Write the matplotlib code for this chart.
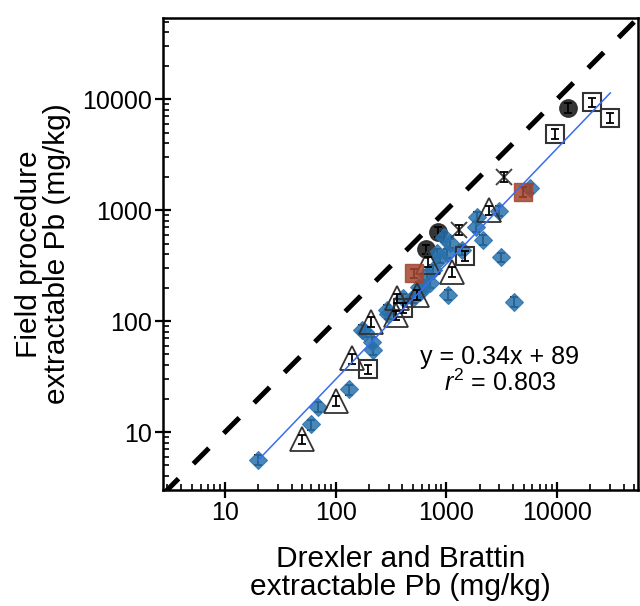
import matplotlib
matplotlib.use('Agg')
import matplotlib.pyplot as plt
import numpy as np
from matplotlib.ticker import LogLocator, NullFormatter, FixedLocator

plt.rcParams['font.family'] = ['Liberation Sans', 'DejaVu Sans']
plt.rcParams['mathtext.fontset'] = 'custom'
plt.rcParams['mathtext.rm'] = 'Liberation Sans'
plt.rcParams['mathtext.it'] = 'Liberation Sans:italic'

# Drexler and Brattin (x) vs field procedure (y), mg/kg
diamond_x = [20, 60, 69, 131, 185, 212, 219, 290, 299, 172, 409, 504, 580, 560, 621,
             713, 666, 764, 878, 820, 1009, 942, 1081, 1045, 1380, 1887, 1860, 2140,
             2960, 5730, 3110, 4050]
diamond_y = [5.6, 11.7, 16.9, 24.2, 80, 65, 55, 126, 117, 83, 161, 161, 184, 204, 204,
             219, 261, 289, 368, 408, 408, 577, 503, 172, 438, 873, 710, 538,
             990, 1575, 376, 150]

triangle_x = [49.7, 100, 141, 207, 357, 348, 541, 689, 1122, 2440]
triangle_y = [8.6, 19.2, 46, 99, 161, 113, 172, 341, 279, 1000]

square_x = [196, 409, 1480, 9660, 20700, 30300]
square_y = [36.7, 131, 386, 4860, 9400, 6820]

circle_x = [656, 838, 12500]
circle_y = [444, 640, 8400]

cross_x = [1291, 3310]
cross_y = [662, 2005]

red_x = [505, 4920]
red_y = [270, 1470]

rel_err = 0.1

fit_x = [20, 30300]
fit_y = [5.6, 11400]
one_to_one = [2.75, 54000]

fig = plt.figure(figsize=(6.4, 6.06), dpi=100)
ax = fig.add_axes([0.2547, 0.1914, 0.7423, 0.7797])
ax.set_xscale('log')
ax.set_yscale('log')


def err_bars(x, y, z):
    y = np.array(y, dtype=float)
    ax.errorbar(x, y, yerr=rel_err * y, fmt='none', ecolor='black', elinewidth=1.3,
                capsize=3, capthick=1.3, zorder=z)


ax.plot(one_to_one, one_to_one, color='black', lw=3.6, dashes=(4.4, 4.2), zorder=1)

ax.plot(circle_x, circle_y, 'o', ms=12.5, color='#2b2b2b', mec='#2b2b2b', alpha=0.95, zorder=2)
err_bars(circle_x, circle_y, 2.5)

err_bars(diamond_x, diamond_y, 3)
ax.plot(diamond_x, diamond_y, 'D', ms=9.3, color='#2a72ad', mec='#2a72ad', mew=0.8,
        alpha=0.85, zorder=3.5)

ax.plot(triangle_x, triangle_y, '^', ms=17, mfc='none', mec='#333333', mew=1.3, zorder=4)
err_bars(triangle_x, triangle_y, 4.5)

ax.plot(square_x, square_y, 's', ms=13, mfc='none', mec='#333333', mew=1.5, zorder=4)
err_bars(square_x, square_y, 4.5)

err_bars(red_x, red_y, 5)
ax.plot(red_x, red_y, 's', ms=13, color='#a4452f', mec='#a4452f', alpha=0.85, zorder=5.5)

ax.plot(cross_x, cross_y, 'x', ms=12, mec='#444444', mew=1.4, zorder=6)
err_bars(cross_x, cross_y, 6.5)

ax.plot(fit_x, fit_y, color='#3a6cf4', lw=1.1, zorder=7)

ax.text(0.709, 0.282, 'y = 0.34x + 89', transform=ax.transAxes, ha='center', va='center',
        fontsize=18)
ax.text(0.709, 0.226, r'$r^2$ = 0.803', transform=ax.transAxes, ha='center', va='center',
        fontsize=18)

ax.set_xlim(2.75, 54000)
ax.set_ylim(3.0, 54500)

ticks = [10, 100, 1000, 10000]
ax.xaxis.set_major_locator(FixedLocator(ticks))
ax.yaxis.set_major_locator(FixedLocator(ticks))
ax.set_xticklabels([str(t) for t in ticks])
ax.set_yticklabels([str(t) for t in ticks])
ax.xaxis.set_minor_locator(LogLocator(base=10, subs=np.arange(2, 10)))
ax.yaxis.set_minor_locator(LogLocator(base=10, subs=np.arange(2, 10)))
ax.xaxis.set_minor_formatter(NullFormatter())
ax.yaxis.set_minor_formatter(NullFormatter())

ax.tick_params(which='major', direction='inout', length=12, width=1.6, labelsize=18, pad=2)
ax.tick_params(which='minor', direction='in', length=4.5, width=1.2)
ax.tick_params(top=False, right=False)
for s in ax.spines.values():
    s.set_linewidth(1.8)

ax.set_xlabel('Drexler and Brattin\nextractable Pb (mg/kg)', fontsize=21.5, labelpad=14,
              linespacing=1.0)
ax.set_ylabel('Field procedure\nextractable Pb (mg/kg)', fontsize=21.5, labelpad=8,
              linespacing=1.0)

fig.savefig('out.png', dpi=100)
